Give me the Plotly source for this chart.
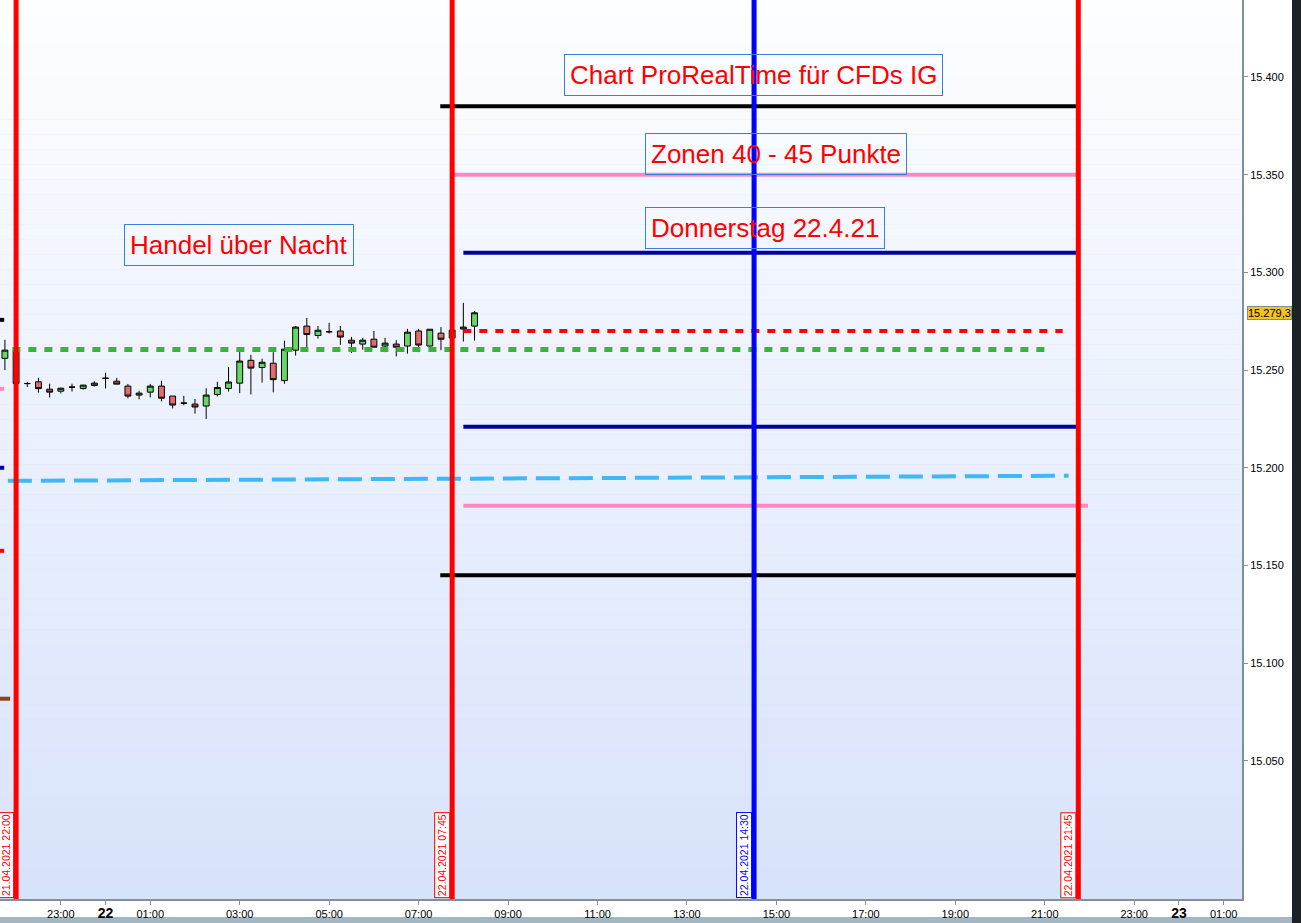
import pandas as pd
import plotly.graph_objects as go

# 15-minute candles, DAX CFD, night session 21/22 April 2021
candle_start = "2021-04-21 21:45"
opens  = [15256.0, 15259.7, 15243.1, 15244.0, 15240.2, 15239.2, 15241.3, 15240.6, 15242.1, 15245.8,
          15244.3, 15241.8, 15237.2, 15238.7, 15241.8, 15236.7, 15233.1, 15232.6, 15231.6, 15237.5,
          15240.6, 15243.3, 15255.0, 15251.3, 15253.5, 15244.6, 15260.2, 15272.5, 15267.7, 15269.6,
          15270.0, 15265.3, 15263.3, 15265.8, 15262.3, 15263.3, 15262.3, 15270.0, 15262.3, 15268.9,
          15266.4, 15271.0, 15272.5]
highs  = [15265.5, 15260.3, 15244.0, 15246.0, 15243.0, 15241.0, 15243.0, 15242.5, 15244.3, 15248.6,
          15246.0, 15242.9, 15239.4, 15242.9, 15244.5, 15236.7, 15236.8, 15235.2, 15240.7, 15244.0,
          15251.6, 15261.2, 15257.8, 15255.8, 15259.2, 15265.0, 15272.6, 15276.7, 15272.6, 15274.2,
          15272.6, 15267.0, 15266.5, 15270.0, 15266.5, 15265.3, 15271.1, 15271.1, 15271.0, 15272.0,
          15271.0, 15284.4, 15280.3]
lows   = [15250.0, 15243.0, 15241.3, 15238.5, 15236.0, 15238.0, 15239.0, 15240.0, 15241.6, 15240.6,
          15242.8, 15235.5, 15235.0, 15236.0, 15234.0, 15230.4, 15232.0, 15227.7, 15225.0, 15236.5,
          15239.0, 15238.2, 15237.5, 15243.6, 15238.6, 15243.0, 15257.4, 15261.7, 15266.1, 15268.7,
          15262.9, 15258.7, 15260.4, 15261.7, 15259.2, 15257.0, 15258.4, 15259.2, 15262.0, 15260.2,
          15266.0, 15264.6, 15265.1]
closes = [15260.2, 15243.1, 15243.1, 15240.5, 15238.7, 15240.7, 15241.3, 15242.3, 15243.3, 15245.8,
          15242.8, 15236.7, 15238.2, 15241.8, 15235.6, 15232.1, 15233.1, 15231.1, 15237.2, 15241.1,
          15243.9, 15254.6, 15251.0, 15254.0, 15245.1, 15260.7, 15272.0, 15268.2, 15270.4, 15269.6,
          15266.9, 15263.8, 15265.3, 15261.7, 15263.8, 15261.7, 15269.4, 15262.8, 15270.9, 15265.8,
          15270.4, 15272.0, 15279.3]
candle_times = pd.date_range(candle_start, periods=len(opens), freq="15min")

# horizontal zone levels: (start, end, value, colour, width, dash)
level_names  = ["upper_black", "upper_pink", "upper_navy", "pivot_red", "close_green",
                "lower_navy", "lower_pink", "lower_black"]
level_starts = ["2021-04-22 07:29", "2021-04-22 07:45", "2021-04-22 08:00", "2021-04-22 08:00",
                "2021-04-21 21:55", "2021-04-22 08:00", "2021-04-22 08:00", "2021-04-22 07:29"]
level_ends   = ["2021-04-22 21:45", "2021-04-22 21:45", "2021-04-22 21:45", "2021-04-22 21:24",
                "2021-04-22 21:05", "2021-04-22 21:45", "2021-04-22 21:58", "2021-04-22 21:45"]
level_values = [15385, 15350, 15310, 15270, 15260.5, 15221, 15180.5, 15145]
level_colors = ["#000000", "#ff88c4", "#0000a0", "#ff0000", "#33b833",
                "#0000a0", "#ff88c4", "#000000"]
level_widths = [4, 4, 4, 4, 5, 4, 4, 4]
level_dashes = ["solid", "solid", "solid", "8px,8px", "8px,8px", "solid", "solid", "solid"]

# sloped trend line
trend_times  = ["2021-04-21 21:49", "2021-04-22 21:32"]
trend_values = [15193.3, 15195.9]

# short marks at the left border (previous levels)
mark_values = [15275.7, 15240.4, 15200.0, 15157.5, 15081.8]
mark_colors = ["#000000", "#ff88c4", "#0000a0", "#ff0000", "#8b4513"]
mark_ends   = ["2021-04-21 21:44", "2021-04-21 21:44", "2021-04-21 21:44", "2021-04-21 21:44",
               "2021-04-21 21:52"]

# vertical session markers
vline_times  = ["2021-04-21 22:00", "2021-04-22 07:45", "2021-04-22 14:30", "2021-04-22 21:45"]
vline_labels = ["21.04.2021 22:00", "22.04.2021 07:45", "22.04.2021 14:30", "22.04.2021 21:45"]
vline_colors = ["#ff0000", "#ff0000", "#0000ff", "#ff0000"]

# text boxes
note_texts  = ["Chart ProRealTime für CFDs IG", "Zonen 40 - 45 Punkte",
               "Donnerstag 22.4.21", "Handel über Nacht"]
note_times  = ["2021-04-22 14:29", "2021-04-22 15:00", "2021-04-22 14:45", "2021-04-22 02:59"]
note_values = [15401, 15360.6, 15322.8, 15314]

# axes
x_range = ["2021-04-21 21:38:24", "2021-04-23 01:24:36"]
y_range = [14979.3, 15439.4]
y_ticks = [15050, 15100, 15150, 15200, 15250, 15300, 15350, 15400]
x_tickvals = ["2021-04-21 23:00", "2021-04-22 00:00", "2021-04-22 01:00", "2021-04-22 03:00",
              "2021-04-22 05:00", "2021-04-22 07:00", "2021-04-22 09:00", "2021-04-22 11:00",
              "2021-04-22 13:00", "2021-04-22 15:00", "2021-04-22 17:00", "2021-04-22 19:00",
              "2021-04-22 21:00", "2021-04-22 23:00", "2021-04-23 00:00", "2021-04-23 01:00"]
x_ticktext = ["23:00", "<span style='font-size:14px'><b>22</b></span>", "01:00", "03:00",
              "05:00", "07:00", "09:00", "11:00", "13:00", "15:00", "17:00", "19:00",
              "21:00", "23:00", "<span style='font-size:14px'><b>23</b></span>", "01:00"]

FONT = "Arial, Liberation Sans, sans-serif"

fig = go.Figure()

# horizontal levels
for name, x0, x1, val, col, w, d in zip(level_names, level_starts, level_ends, level_values,
                                        level_colors, level_widths, level_dashes):
    fig.add_trace(go.Scatter(x=[x0, x1], y=[val, val], mode="lines", name=name,
                             line=dict(color=col, width=w, dash=d), hoverinfo="skip"))

fig.add_trace(go.Scatter(x=trend_times, y=trend_values, mode="lines", name="trend",
                         line=dict(color="#3fb8f5", width=4, dash="24px,9px"), hoverinfo="skip"))

for val, col, x1 in zip(mark_values, mark_colors, mark_ends):
    fig.add_trace(go.Scatter(x=[x_range[0], x1], y=[val, val], mode="lines",
                             line=dict(color=col, width=4), hoverinfo="skip"))

fig.add_trace(go.Candlestick(
    x=candle_times, open=opens, high=highs, low=lows, close=closes, name="DAX",
    increasing=dict(fillcolor="#66d666", line=dict(color="#000000", width=1)),
    decreasing=dict(fillcolor="#e26c6c", line=dict(color="#000000", width=1)),
    whiskerwidth=0,
))

shapes = []
# background gradient, white at the top to pale blue at the bottom
n_bands = 60
top_rgb, bot_rgb = (253, 254, 255), (215, 226, 251)
for i in range(n_bands):
    t = (i + 0.5) / n_bands
    r, g, b = (round(bot_rgb[k] + (top_rgb[k] - bot_rgb[k]) * t) for k in range(3))
    shapes.append(dict(type="rect", xref="paper", yref="paper", x0=0, x1=1,
                       y0=i / n_bands, y1=(i + 1) / n_bands, fillcolor=f"rgb({r},{g},{b})",
                       line=dict(width=0), layer="below"))

for t, col in zip(vline_times, vline_colors):
    shapes.append(dict(type="line", xref="x", yref="paper", x0=t, x1=t, y0=0, y1=1,
                       line=dict(color=col, width=5)))

# window frame outside the chart
shapes.append(dict(type="rect", xref="paper", yref="paper", x0=1292 / 1242, x1=1.06,
                   y0=-0.03, y1=1, fillcolor="#1c2226", line=dict(width=0), layer="below"))
shapes.append(dict(type="rect", xref="paper", yref="paper", x0=0, x1=1292 / 1242,
                   y0=-0.03, y1=-18 / 899, fillcolor="#a3b6c4", line=dict(width=0),
                   layer="below"))

annotations = []
for txt, t, v in zip(note_texts, note_times, note_values):
    annotations.append(dict(x=t, y=v, xref="x", yref="y", text=txt, showarrow=False,
                            font=dict(family=FONT, size=26, color="#ff0000"),
                            bordercolor="#3a7ee0", borderwidth=1, borderpad=5,
                            xanchor="center", yanchor="middle"))

for t, txt, col in zip(vline_times, vline_labels, vline_colors):
    annotations.append(dict(x=t, y=0, xref="x", yref="paper", text=txt, showarrow=False,
                            textangle=-90, font=dict(family=FONT, size=10.5, color=col),
                            bgcolor="#ffffff", bordercolor=col, borderwidth=1, borderpad=1,
                            xanchor="right", yanchor="bottom", xshift=-2, yshift=1))

# last price tag on the price scale
annotations.append(dict(x=1, y=closes[-1], xref="paper", yref="y", text="15.279,3",
                        showarrow=False, xanchor="left", xshift=5,
                        font=dict(family=FONT, size=11, color="#000000"),
                        bgcolor="#f6c21c", bordercolor="#7d8c99", borderwidth=1, borderpad=0))

fig.update_layout(
    width=1301, height=923,
    margin=dict(l=0, r=59, t=0, b=24),
    paper_bgcolor="#ffffff",
    plot_bgcolor="#d7e2fb",
    showlegend=False,
    separators=",.",
    shapes=shapes,
    annotations=annotations,
    boxgap=0.25,
    xaxis=dict(type="date", range=x_range, rangeslider=dict(visible=False),
               tickmode="array", tickvals=x_tickvals, ticktext=x_ticktext,
               ticks="outside", ticklen=4, tickcolor="#7f8f9c",
               showline=True, linecolor="#7f8f9c", linewidth=2, showgrid=False, zeroline=False,
               tickfont=dict(family=FONT, size=11, color="#000000")),
    yaxis=dict(range=y_range, side="right", tickmode="array", tickvals=y_ticks,
               tickformat=",.0f", ticks="outside", ticklen=4, tickcolor="#7f8f9c",
               showline=True, linecolor="#7f8f9c", linewidth=2, showgrid=False, zeroline=False,
               tickfont=dict(family=FONT, size=11, color="#000000")),
)

fig.write_html("out.html")
